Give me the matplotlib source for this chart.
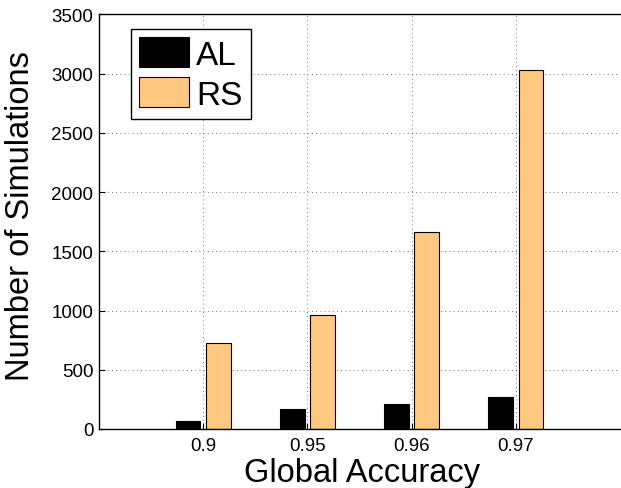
import numpy as np
import matplotlib
matplotlib.use("Agg")
import matplotlib.pyplot as plt

plt.rcParams['font.family'] = ['Liberation Sans', 'DejaVu Sans']

accuracy = ["0.9", "0.95", "0.96", "0.97"]
al_sims = [68, 166, 208, 273]
rs_sims = [723, 962, 1660, 3027]

x = np.arange(1, len(accuracy) + 1)
width = 0.235
offset = 0.145

fig = plt.figure(figsize=(6.21, 4.89), dpi=100)
ax = fig.add_axes([99 / 621, 59 / 489, 521 / 621, 414.7 / 489])

ax.bar(x - offset, al_sims, width, color="black", edgecolor="black", linewidth=0.8, label="AL")
ax.bar(x + offset, rs_sims, width, color="#ffc880", edgecolor="black", linewidth=0.8, label="RS")

ax.set_xlim(0, 5)
ax.set_ylim(0, 3500)
ax.set_xticks(x)
ax.set_xticklabels(accuracy)
ax.set_yticks(np.arange(0, 3501, 500))
ax.tick_params(direction="in", length=4, labelsize=13.5, width=0.8)
ax.tick_params(axis="x", pad=6)
ax.tick_params(axis="y", pad=4)
ax.grid(True, linestyle=(0, (1, 4)), color="black", linewidth=0.6, alpha=0.7)
ax.set_axisbelow(True)
ax.spines["right"].set_visible(False)
for s in ["left", "top", "bottom"]:
    ax.spines[s].set_linewidth(1.0)

ax.set_xlabel("Global Accuracy", fontsize=23.5)
ax.set_ylabel("Number of Simulations", fontsize=23.5)
ax.xaxis.set_label_coords(0.505, -0.068)
ax.yaxis.set_label_coords(-0.12, 0.515)

leg = ax.legend(loc="upper left", bbox_to_anchor=(32 / 521, 1 - 14.7 / 414.7),
                fontsize=24, fancybox=False, edgecolor="black", framealpha=1,
                handlelength=1.5, handleheight=1.0, handletextpad=0.2,
                borderpad=0.25, labelspacing=0.2, borderaxespad=0)
leg.get_frame().set_linewidth(1.0)

fig.savefig("out.png", dpi=100)
